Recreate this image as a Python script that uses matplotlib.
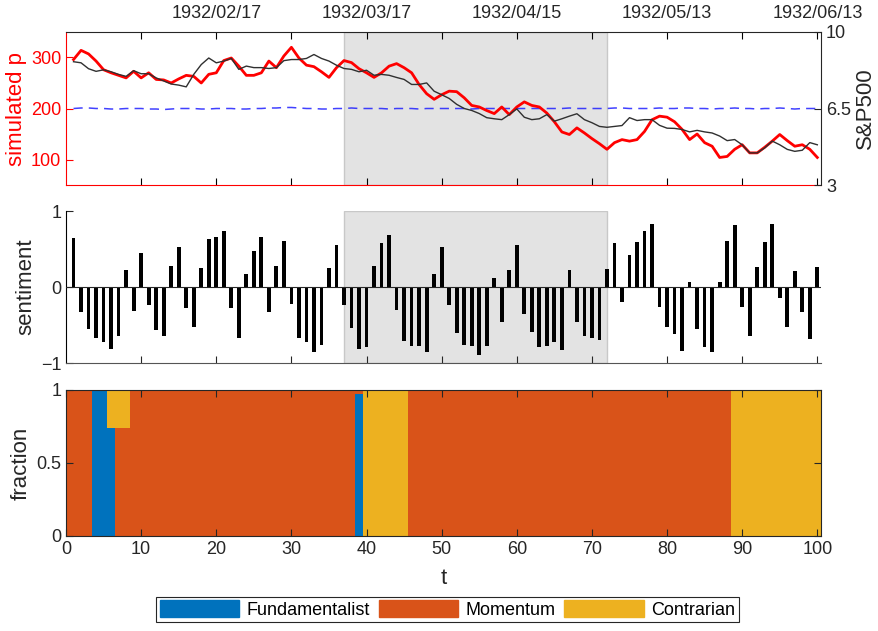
import matplotlib
matplotlib.use("Agg")
import matplotlib.pyplot as plt
from matplotlib.patches import Patch
import numpy as np

plt.rcParams['font.family'] = ['Liberation Sans', 'DejaVu Sans']

# time steps
t = list(range(1, 101))

# simulated price (left axis)
sim_p = [296, 314, 307, 293, 276, 270, 265, 260, 273, 260,
         270, 257, 256, 250, 258, 265, 263, 250, 267, 270,
         294, 299, 283, 265, 265, 270, 293, 280, 303, 320,
         299, 285, 282, 272, 261, 280, 294, 290, 278, 270,
         261, 270, 283, 288, 280, 270, 247, 229, 218, 227,
         234, 233, 221, 206, 203, 196, 190, 203, 188, 203,
         213, 206, 203, 191, 174, 154, 149, 162, 152, 141,
         131, 120, 133, 139, 136, 139, 155, 178, 185, 183,
         174, 159, 139, 150, 133, 126, 104, 106, 120, 129,
         113, 113, 124, 136, 149, 137, 126, 129, 120, 104]

# S&P500 (right axis)
sp500 = [8.64, 8.59, 8.32, 8.20, 8.27, 8.18, 8.06, 7.97, 8.23, 8.09,
         8.09, 7.90, 7.76, 7.62, 7.57, 7.49, 8.06, 8.51, 8.81, 8.59,
         8.67, 8.79, 8.29, 8.44, 8.37, 8.37, 8.33, 8.37, 8.69, 8.74,
         8.74, 8.79, 8.97, 8.79, 8.67, 8.48, 8.33, 8.29, 8.18, 8.25,
         8.02, 8.06, 8.02, 7.92, 7.83, 7.60, 7.60, 7.67, 7.29, 7.13,
         6.96, 6.69, 6.50, 6.41, 6.27, 6.08, 6.03, 5.99, 6.22, 6.48,
         6.10, 5.99, 6.03, 6.22, 5.92, 6.03, 6.15, 6.26, 5.99, 5.85,
         5.68, 5.64, 5.68, 5.72, 6.08, 5.95, 5.99, 5.99, 5.73, 5.60,
         5.59, 5.54, 5.43, 5.50, 5.43, 5.38, 5.24, 5.03, 5.08, 4.84,
         4.47, 4.47, 4.70, 5.01, 4.84, 4.63, 4.54, 4.59, 4.94, 4.84]

# fundamental value (dashed)
fundamental = [200, 201, 201, 200, 200, 199, 199, 200, 200, 200,
               199, 199, 198, 199, 200, 200, 200, 199, 199, 200,
               200, 200, 199, 199, 200, 200, 201, 201, 202, 202,
               201, 200, 200, 199, 199, 200, 200, 201, 200, 200,
               200, 200, 199, 200, 200, 200, 199, 200, 200, 200,
               200, 200, 200, 199, 200, 200, 200, 200, 200, 200,
               200, 200, 200, 200, 200, 200, 201, 200, 200, 200,
               200, 200, 201, 201, 200, 200, 200, 200, 201, 200,
               200, 201, 201, 200, 200, 199, 200, 200, 201, 200,
               200, 199, 200, 200, 201, 200, 199, 200, 200, 200]

# sentiment
sentiment = [0.65, -0.33, -0.55, -0.67, -0.73, -0.81, -0.65, 0.23, -0.32, 0.45,
             -0.24, -0.57, -0.65, 0.28, 0.53, -0.27, -0.52, 0.25, 0.63, 0.66,
             0.74, -0.27, -0.67, 0.17, 0.48, 0.66, -0.33, 0.28, 0.61, -0.22,
             -0.67, -0.73, -0.86, -0.76, 0.25, 0.55, -0.24, -0.54, -0.81, -0.79,
             0.28, 0.58, 0.69, -0.30, -0.71, -0.77, -0.77, -0.86, 0.17, 0.53,
             -0.24, -0.60, -0.76, -0.77, -0.90, -0.77, 0.12, -0.46, 0.23, 0.55,
             -0.35, -0.59, -0.79, -0.77, -0.73, -0.83, 0.23, -0.46, -0.65, -0.67,
             -0.70, 0.24, 0.58, -0.20, 0.42, 0.59, 0.74, 0.83, -0.26, -0.52,
             -0.62, -0.84, 0.07, -0.55, -0.79, -0.86, 0.07, 0.61, 0.81, -0.26,
             -0.64, 0.26, 0.59, 0.83, -0.14, -0.53, 0.21, -0.33, -0.69, 0.26]

# agent fractions, t = 0..100
t_frac = list(range(0, 101))
frac_fund = [0] * 4 + [1, 1, 0.74] + [0] * 32 + [0.97] + [0] * 61
frac_contr = [0] * 6 + [0.26, 0.26, 0.26] + [0] * 31 + [1] * 6 + [0] * 43 + [1] * 12
frac_mom = [1 - f - c for f, c in zip(frac_fund, frac_contr)]

date_ticks = [20, 40, 60, 80, 100]
date_labels = ['1932/02/17', '1932/03/17', '1932/04/15', '1932/05/13', '1932/06/13']
shade = (37, 72)

c_blue = '#0072BD'
c_orange = '#D95319'
c_yellow = '#EDB120'

fig = plt.figure(figsize=(8.79, 6.31), dpi=100)
ax1 = fig.add_axes([0.0751, 0.7068, 0.859, 0.2425])
ax2 = fig.add_axes([0.0751, 0.4247, 0.859, 0.2409])
ax3 = fig.add_axes([0.0751, 0.1506, 0.859, 0.2314])

xlim = (0, 100.5)
fs = 13      # tick labels
lfs = 16     # axis labels
dark = '#262626'

# ---- top panel
ax1.axvspan(shade[0], shade[1], facecolor='#e3e3e3', edgecolor='#c8c8c8', lw=1, zorder=0)
ax1.plot(t, fundamental, '--', color='#2020ff', lw=1.1, alpha=0.85, dashes=(6, 4))
ax1.plot(t, sim_p, color='red', lw=2)
ax1.set_xlim(xlim)
ax1.set_ylim(50, 350)
ax1.set_yticks([100, 200, 300])
ax1.set_ylabel('simulated p', color='red', fontsize=lfs, labelpad=3)
ax1.tick_params(axis='y', colors='red', direction='in', labelsize=fs, length=5)
ax1.set_xticks(range(10, 101, 10))
ax1.set_xticklabels(['' if v not in date_ticks else date_labels[date_ticks.index(v)]
                     for v in range(10, 101, 10)])
ax1.tick_params(axis='x', direction='in', top=True, labeltop=True, labelbottom=False,
                labelsize=fs, length=5, labelcolor=dark, pad=7)
for tk in ax1.xaxis.get_major_ticks():
    tk.tick1line.set_color('red')
    tk.tick2line.set_color(dark)
ax1.spines['left'].set_color('red')
ax1.spines['bottom'].set_color('red')
ax1.spines['top'].set_color(dark)
ax1.spines['right'].set_visible(False)

ax1r = ax1.twinx()
ax1r.plot(t, sp500, color='#303030', lw=1)
ax1r.set_ylim(3, 10)
ax1r.set_yticks([3, 6.5, 10])
ax1r.set_yticklabels(['3', '6.5', '10'])
ax1r.set_ylabel('S&P500', color=dark, fontsize=lfs, labelpad=3)
ax1r.tick_params(axis='y', colors=dark, direction='in', labelsize=fs, length=5)
ax1r.spines['left'].set_visible(False)
ax1r.spines['bottom'].set_visible(False)
ax1r.spines['top'].set_visible(False)
ax1r.spines['right'].set_color(dark)

# ---- middle panel
ax2.axvspan(shade[0], shade[1], ymin=0, ymax=1, facecolor='#e3e3e3', edgecolor='#c8c8c8', lw=1, zorder=0)
ax2.bar(t, sentiment, width=0.5, color='black', zorder=2)
ax2.axhline(0, color=dark, lw=0.8, zorder=3)
ax2.set_xlim(xlim)
ax2.set_ylim(-1, 1)
ax2.set_yticks([-1, 0, 1])
ax2.set_xticks(range(10, 101, 10))
ax2.set_xticklabels([])
ax2.set_ylabel('sentiment', fontsize=lfs, color=dark, labelpad=3)
ax2.tick_params(direction='in', labelsize=fs, length=5, colors=dark)
ax2.spines['top'].set_visible(False)
ax2.spines['right'].set_visible(False)
ax2.spines['bottom'].set_color('#555555')

# ---- bottom panel
ax3.bar(t_frac, frac_fund, width=1, color=c_blue, label='Fundamentalist')
ax3.bar(t_frac, frac_mom, width=1, bottom=frac_fund, color=c_orange, label='Momentum')
bottom_c = [f + m for f, m in zip(frac_fund, frac_mom)]
ax3.bar(t_frac, frac_contr, width=1, bottom=bottom_c, color=c_yellow, label='Contrarian')
ax3.set_xlim(xlim)
ax3.set_ylim(0, 1)
ax3.set_yticks([0, 0.5, 1])
ax3.set_yticklabels(['0', '0.5', '1'])
ax3.set_xticks(range(0, 101, 10))
ax3.set_xlabel('t', fontsize=lfs, color=dark, labelpad=7)
ax3.set_ylabel('fraction', fontsize=lfs, color=dark, labelpad=3)
ax3.tick_params(direction='in', labelsize=fs, length=5, colors=dark, top=True, right=True)
for s in ax3.spines.values():
    s.set_color(dark)

handles = [Patch(color=c_blue), Patch(color=c_orange), Patch(color=c_yellow)]
leg = fig.legend(handles, ['Fundamentalist', 'Momentum', 'Contrarian'], ncol=3,
                 loc='center', bbox_to_anchor=(0.509, 0.034), fontsize=13,
                 frameon=True, fancybox=False, edgecolor=dark, framealpha=1,
                 handlelength=4.4, handleheight=1.0, columnspacing=0.5,
                 handletextpad=0.4, borderpad=0.2, borderaxespad=0)
leg.get_frame().set_linewidth(0.8)

fig.savefig('out.png', dpi=100)
